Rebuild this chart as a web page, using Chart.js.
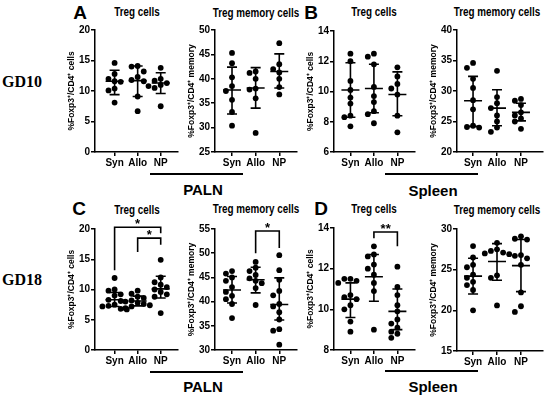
<!DOCTYPE html>
<html>
<head>
<meta charset="utf-8">
<script src="https://cdn.jsdelivr.net/npm/chart.js@4.4.0/dist/chart.umd.min.js"></script>
<style>
  body { margin: 0; background: #fff; width: 546px; height: 396px; position: relative; overflow: hidden; font-family: "Liberation Sans", Arial, sans-serif; }
  .t { position: absolute; white-space: nowrap; font-weight: bold; color: #000; transform: translate(-50%, -50%); line-height: 1; }
  .title { font-size: 12px; transform: translate(-50%, -50%) scaleX(0.82); }
  .letter { font-size: 19px; }
  .gd { font-family: "Liberation Serif", "Times New Roman", serif; font-size: 16px; transform: translate(0, -50%); }
  .tissue { font-size: 15px; }
  .bar { position: absolute; height: 1.5px; background: #000; }
  .panel { position: absolute; }
</style>
</head>
<body>
<div class="t gd" style="left:2px;top:82px">GD10</div>
<div class="t gd" style="left:2px;top:280px">GD18</div>

<div class="t letter" style="left:80px;top:12px">A</div>
<div class="t letter" style="left:311px;top:12px">B</div>
<div class="t letter" style="left:79px;top:208px">C</div>
<div class="t letter" style="left:321px;top:208px">D</div>

<div class="t title" style="left:137px;top:12px">Treg cells</div>
<div class="t title" style="left:256px;top:13px">Treg memory cells</div>
<div class="t title" style="left:374px;top:12px">Treg cells</div>
<div class="t title" style="left:497px;top:12px">Treg memory cells</div>
<div class="t title" style="left:137px;top:210px">Treg cells</div>
<div class="t title" style="left:256px;top:209px">Treg memory cells</div>
<div class="t title" style="left:374px;top:209px">Treg cells</div>
<div class="t title" style="left:497px;top:210px">Treg memory cells</div>

<div class="bar" style="left:150px;top:173px;width:93px"></div>
<div class="bar" style="left:385px;top:173px;width:93px"></div>
<div class="bar" style="left:150px;top:371px;width:93px"></div>
<div class="bar" style="left:385px;top:370px;width:93px"></div>
<div class="t tissue" style="left:203px;top:189px">PALN</div>
<div class="t tissue" style="left:433px;top:190px">Spleen</div>
<div class="t tissue" style="left:203px;top:386px">PALN</div>
<div class="t tissue" style="left:433px;top:386px">Spleen</div>

<script>
const GROUPS = ["Syn", "Allo", "NP"];

// A: GD10 PALN
const aTreg = [
  [14.6, 12.8, 12.0, 11.6, 11.5, 10.4, 10.1, 8.1],
  [14.1, 14.0, 13.2, 12.3, 11.8, 11.6, 9.1, 6.7],
  [13.8, 12.0, 11.7, 11.3, 11.0, 10.8, 10.5, 7.5],
];
const aTregMean = [11.6, 11.7, 11.3];
const aTregLo = [9.4, 9.1, 9.6];
const aTregHi = [13.4, 14.1, 13.0];

const aMem = [
  [45.3, 43.2, 40.3, 38.5, 37.5, 35.7, 33.2, 30.4],
  [41.5, 41.2, 40.0, 38.0, 37.8, 36.0, 28.9],
  [47.3, 43.0, 42.0, 41.3, 40.0, 38.3, 36.8],
];
const aMemMean = [37.7, 38.1, 41.5];
const aMemLo = [32.8, 34.0, 38.1];
const aMemHi = [42.4, 42.3, 45.1];

// B: GD10 spleen
const bTreg = [
  [12.5, 12.0, 10.7, 10.1, 9.6, 9.2, 8.4, 8.3, 7.7],
  [12.5, 12.3, 11.8, 10.3, 9.7, 9.3, 8.7, 8.5, 7.9],
  [11.6, 11.0, 10.5, 10.2, 9.8, 8.4, 7.3],
];
const bTregMean = [10.1, 10.2, 9.8];
const bTregLo = [8.3, 8.6, 8.4];
const bTregHi = [11.9, 11.8, 11.3];

const bMem = [
  [34.6, 33.8, 32.0, 30.5, 28.5, 27.0, 24.3, 24.1, 24.0],
  [33.3, 29.0, 28.0, 27.2, 26.0, 25.0, 24.0, 23.3],
  [28.7, 28.4, 27.7, 26.5, 26.0, 25.5, 25.0, 23.8],
];
const bMemMean = [28.4, 27.2, 26.5];
const bMemLo = [24.2, 24.3, 25.1];
const bMemHi = [32.4, 30.2, 28.0];

// C: GD18 PALN
const cTreg = [
  [11.9, 10.0, 9.8, 9.2, 9.0, 8.3, 8.1, 7.5, 7.3, 7.2, 6.8, 6.7],
  [9.8, 9.3, 8.8, 8.6, 8.2, 8.0, 7.8, 7.6, 7.4, 7.2, 6.9],
  [14.9, 12.0, 11.2, 10.8, 10.4, 10.0, 9.6, 9.2, 8.8, 6.1],
];
const cTregMean = [8.3, 8.1, 10.1];
const cTregLo = [7.2, 7.3, 8.6];
const cTregHi = [9.5, 8.9, 12.2];
// [from, to, bracket y, left leg end, right leg end, label]
const cTregSig = [[0, 2, 20.3, 13.2, 19.3, "*"], [1, 2, 18.5, 16.2, 17.4, "*"]];

const cMem = [
  [46.3, 45.8, 45.0, 44.3, 43.0, 42.0, 41.2, 40.5, 39.5, 36.6],
  [48.2, 47.0, 46.3, 45.5, 44.8, 44.3, 43.8, 42.8, 39.3],
  [49.6, 46.5, 44.5, 42.2, 41.3, 39.5, 39.0, 37.8, 36.3, 34.3, 34.0, 31.1],
];
const cMemMean = [42.4, 44.5, 39.4];
const cMemLo = [39.7, 41.8, 36.2];
const cMemHi = [45.2, 47.1, 44.9];
const cMemSig = [[1, 2, 54.6, 50.0, 51.1, "*"]];

// D: GD18 spleen
const dTreg = [
  [11.5, 11.5, 11.4, 11.3, 10.7, 10.6, 10.5, 10.2, 10.0, 9.4, 8.9],
  [13.1, 12.7, 12.6, 12.2, 12.0, 11.7, 11.3, 10.9, 9.0],
  [12.1, 11.1, 10.7, 10.2, 9.9, 9.5, 9.3, 9.1, 8.9, 8.8, 8.6],
];
const dTregMean = [10.5, 11.6, 9.9];
const dTregLo = [9.6, 10.4, 9.0];
const dTregHi = [11.3, 12.7, 11.0];
const dTregSig = [[1, 2, 13.8, 13.5, 13.1, "**"]];

const dMem = [
  [27.9, 26.5, 25.6, 25.3, 24.4, 24.0, 23.5, 23.1, 22.5, 20.0],
  [28.3, 27.5, 27.3, 27.1, 27.0, 26.9, 24.3, 24.0, 20.6],
  [29.1, 28.8, 28.7, 26.8, 26.7, 26.4, 25.6, 22.2, 20.5, 19.8],
];
const dMemMean = [24.2, 26.0, 25.5];
const dMemLo = [22.0, 23.7, 22.3];
const dMemHi = [26.4, 28.2, 28.7];

const TITLE_CELLS = "%Foxp3\u207A/CD4\u207A cells";
const TITLE_MEM = "%Foxp3\u207A/CD4\u207A memory";
const FONT = "'Liberation Sans', Arial, sans-serif";

const PANELS = [
  { ax: 95,  top: 30,  w: 83, h: 122, yMin: 0,  yMax: 20, step: 5, xMin: -0.85, xMax: 2.75, title: TITLE_CELLS, pts: aTreg, mean: aTregMean, lo: aTregLo, hi: aTregHi },
  { ax: 215, top: 30,  w: 82, h: 122, yMin: 25, yMax: 50, step: 5, xMin: -0.72, xMax: 2.75, title: TITLE_MEM,   pts: aMem,  mean: aMemMean,  lo: aMemLo,  hi: aMemHi },
  { ax: 334, top: 31,  w: 81, h: 121, yMin: 6,  yMax: 14, step: 2, xMin: -0.70, xMax: 2.75, title: TITLE_CELLS, pts: bTreg, mean: bTregMean, lo: bTregLo, hi: bTregHi },
  { ax: 457, top: 30,  w: 86, h: 122, yMin: 20, yMax: 40, step: 5, xMin: -0.67, xMax: 2.92, title: TITLE_MEM,   pts: bMem,  mean: bMemMean,  lo: bMemLo,  hi: bMemHi },
  { ax: 95,  top: 229, w: 83, h: 121, yMin: 0,  yMax: 20, step: 5, xMin: -0.85, xMax: 2.75, title: TITLE_CELLS, pts: cTreg, mean: cTregMean, lo: cTregLo, hi: cTregHi, sig: cTregSig },
  { ax: 215, top: 229, w: 82, h: 121, yMin: 30, yMax: 55, step: 5, xMin: -0.72, xMax: 2.75, title: TITLE_MEM,   pts: cMem,  mean: cMemMean,  lo: cMemLo,  hi: cMemHi,  sig: cMemSig },
  { ax: 334, top: 228, w: 81, h: 122, yMin: 8,  yMax: 14, step: 2, xMin: -0.70, xMax: 2.75, title: TITLE_CELLS, pts: dTreg, mean: dTregMean, lo: dTregLo, hi: dTregHi, sig: dTregSig },
  { ax: 457, top: 229, w: 86, h: 122, yMin: 15, yMax: 30, step: 5, xMin: -0.67, xMax: 2.92, title: TITLE_MEM,   pts: dMem,  mean: dMemMean,  lo: dMemLo,  hi: dMemHi },
];

const Y_AXIS_W = 30;
const X_AXIS_H = 22;
const PAD_RIGHT = 3;
const DOT_R = 2.9;

// simple beeswarm: spread dots sideways so they don't overlap
function swarm(values, pxX, pxY) {
  const gap = DOT_R * 2 + 0.3;
  const order = values.map((v, i) => i).sort((a, b) => values[b] - values[a]);
  const placed = [];
  const out = new Array(values.length);
  order.forEach(i => {
    const py = values[i] * pxY;
    for (let k = 0; k < 30; k++) {
      const dx = (k % 2 ? -1 : 1) * Math.ceil(k / 2) * gap;
      const ok = placed.every(p => (p.x - dx) ** 2 + (p.y - py) ** 2 >= gap * gap * 0.9);
      if (ok) {
        placed.push({ x: dx, y: py });
        out[i] = dx / pxX;
        break;
      }
    }
  });
  return out;
}

const statsPlugin = {
  id: "stats",
  afterDatasetsDraw(chart, args, opts) {
    const { ctx } = chart;
    const x = chart.scales.x, y = chart.scales.y;
    ctx.save();
    ctx.strokeStyle = "#000";
    ctx.lineWidth = 1.6;
    opts.mean.forEach((m, i) => {
      const px = x.getPixelForValue(i);
      const pm = y.getPixelForValue(m);
      const plo = y.getPixelForValue(opts.lo[i]);
      const phi = y.getPixelForValue(opts.hi[i]);
      ctx.beginPath();
      ctx.moveTo(px - 9, pm); ctx.lineTo(px + 9, pm);
      ctx.moveTo(px, phi); ctx.lineTo(px, plo);
      ctx.moveTo(px - 5, phi); ctx.lineTo(px + 5, phi);
      ctx.moveTo(px - 5, plo); ctx.lineTo(px + 5, plo);
      ctx.stroke();
    });
    (opts.sig || []).forEach(s => {
      const x1 = x.getPixelForValue(s[0]), x2 = x.getPixelForValue(s[1]);
      const yb = y.getPixelForValue(s[2]);
      ctx.beginPath();
      ctx.moveTo(x1, y.getPixelForValue(s[3]));
      ctx.lineTo(x1, yb);
      ctx.lineTo(x2, yb);
      ctx.lineTo(x2, y.getPixelForValue(s[4]));
      ctx.stroke();
      ctx.fillStyle = "#000";
      ctx.font = "bold 13px " + FONT;
      ctx.textAlign = "center";
      ctx.textBaseline = "alphabetic";
      ctx.fillText(s[5], (x1 + x2) / 2, yb + 1);
    });
    ctx.restore();
  }
};

function makePanel(p) {
  const padTop = p.sig ? 24 : 8;
  const wrap = document.createElement("div");
  wrap.className = "panel";
  const cw = Y_AXIS_W + p.w + PAD_RIGHT;
  const chh = padTop + p.h + X_AXIS_H;
  wrap.style.left = (p.ax - Y_AXIS_W) + "px";
  wrap.style.top = (p.top - padTop) + "px";
  wrap.style.width = cw + "px";
  wrap.style.height = chh + "px";
  const canvas = document.createElement("canvas");
  canvas.width = cw;
  canvas.height = chh;
  wrap.appendChild(canvas);
  document.body.appendChild(wrap);

  const pxX = p.w / (p.xMax - p.xMin);
  const pxY = p.h / (p.yMax - p.yMin);
  const datasets = p.pts.map((vals, gi) => {
    const off = swarm(vals, pxX, pxY);
    return {
      data: vals.map((v, i) => ({ x: gi + off[i], y: v })),
      pointRadius: DOT_R,
      pointHoverRadius: DOT_R,
      backgroundColor: "#000",
      borderWidth: 0,
    };
  });

  const axisGrid = { display: true, drawOnChartArea: false, drawTicks: true, tickLength: 4, color: "#000", lineWidth: 1.5 };
  const tickFont = { family: FONT, size: 10, weight: "bold" };

  new Chart(canvas, {
    type: "scatter",
    data: { datasets },
    options: {
      responsive: false,
      animation: false,
      devicePixelRatio: 1,
      layout: { padding: { top: padTop, right: PAD_RIGHT, left: 0, bottom: 0 } },
      plugins: {
        legend: { display: false },
        tooltip: { enabled: false },
        stats: { mean: p.mean, lo: p.lo, hi: p.hi, sig: p.sig },
      },
      scales: {
        x: {
          type: "linear",
          min: p.xMin,
          max: p.xMax,
          afterBuildTicks: s => { s.ticks = GROUPS.map((g, i) => ({ value: i })); },
          afterFit: s => { s.height = X_AXIS_H; },
          ticks: { color: "#000", font: tickFont, padding: 1, autoSkip: false, maxRotation: 0, callback: v => GROUPS[v] },
          grid: axisGrid,
          border: { display: true, color: "#000", width: 1.5 },
        },
        y: {
          min: p.yMin,
          max: p.yMax,
          afterFit: s => { s.width = Y_AXIS_W; },
          ticks: { color: "#000", font: tickFont, padding: 1, stepSize: p.step },
          grid: axisGrid,
          border: { display: true, color: "#000", width: 1.5 },
          title: { display: true, text: p.title, color: "#000", font: { family: FONT, size: 8.5, weight: "bold" }, padding: { top: 2, bottom: 0 } },
        },
      },
    },
    plugins: [statsPlugin],
  });
}

PANELS.forEach(makePanel);
</script>
</body>
</html>
